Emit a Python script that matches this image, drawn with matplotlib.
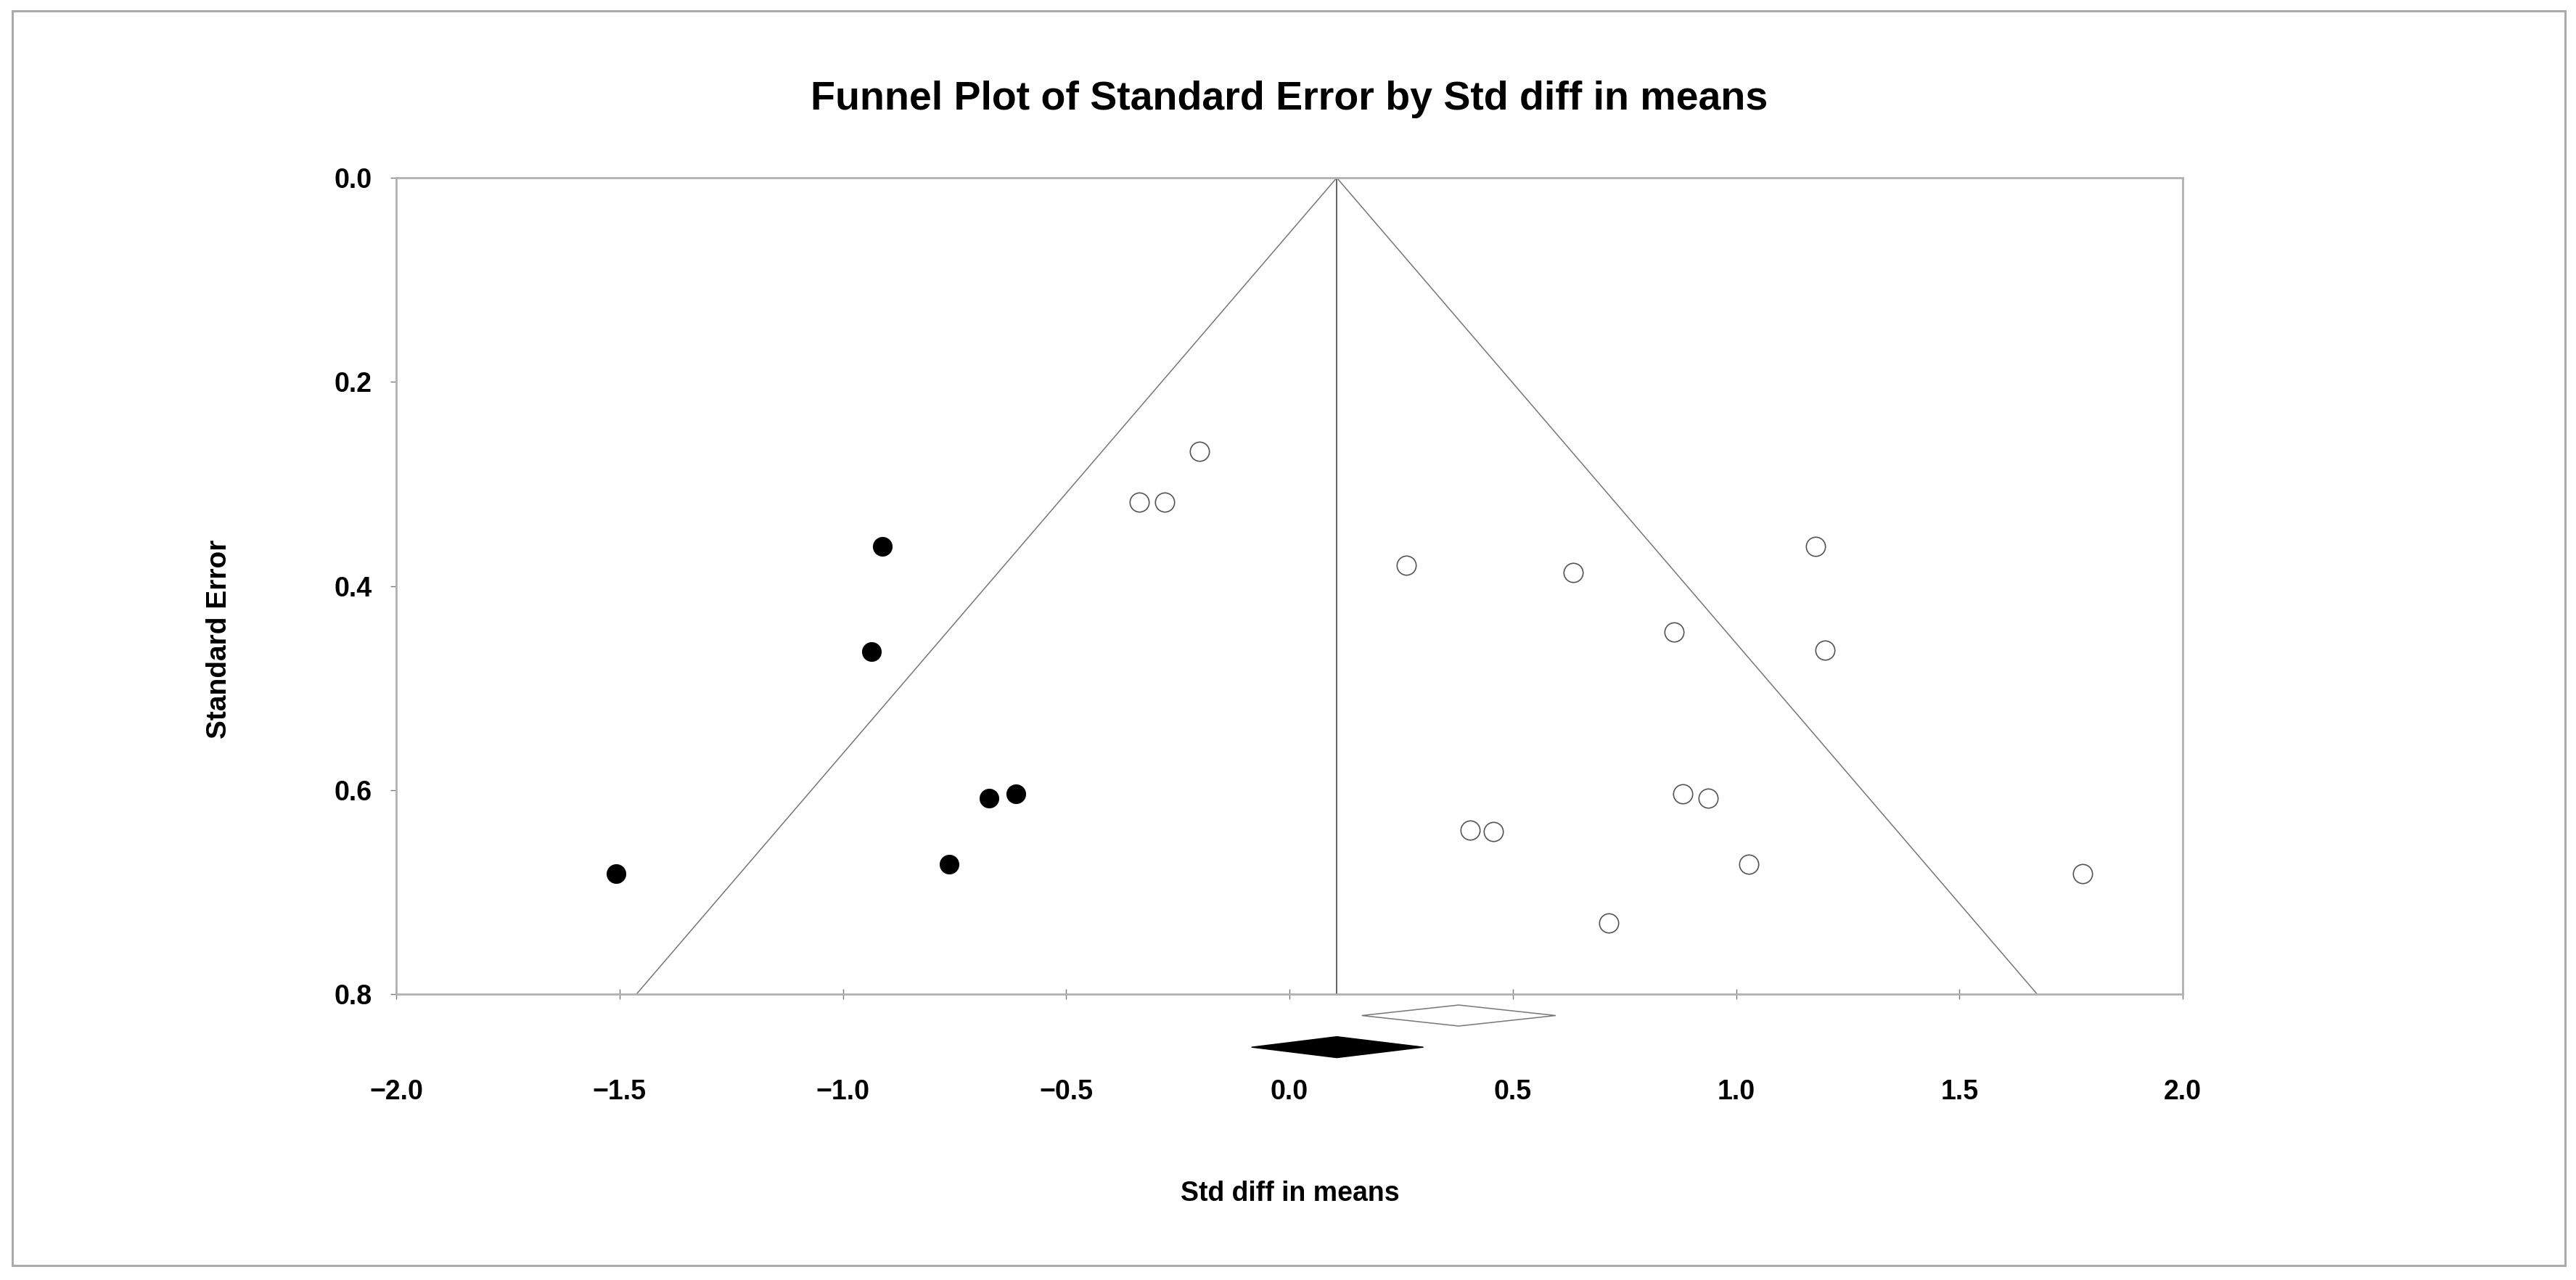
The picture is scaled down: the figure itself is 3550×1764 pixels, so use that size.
import matplotlib
matplotlib.use("Agg")
import matplotlib.pyplot as plt
from matplotlib.patches import Rectangle

plt.rcParams['font.family'] = ['Liberation Sans', 'DejaVu Sans']

# observed studies (open circles)
obs_x = [-0.202, -0.336, -0.280, 0.262, 0.636, 0.861, 1.178, 1.199,
         0.880, 0.938, 0.405, 0.456, 1.028, 0.715, 1.775]
obs_se = [0.268, 0.318, 0.318, 0.380, 0.387, 0.445, 0.361, 0.463,
          0.604, 0.608, 0.639, 0.641, 0.673, 0.730, 0.682]

# imputed studies (filled circles)
imp_x = [-0.911, -0.936, -0.673, -0.613, -0.762, -1.508]
imp_se = [0.361, 0.464, 0.608, 0.604, 0.673, 0.682]

# summary effects: point, lower, upper
obs_est = [0.379, 0.162, 0.596]
adj_est = [0.106, -0.085, 0.300]
obs_row = 0.821
adj_row = 0.852
dh = 0.0103

xticks = [-2.0, -1.5, -1.0, -0.5, 0.0, 0.5, 1.0, 1.5, 2.0]
yticks = [0.0, 0.2, 0.4, 0.6, 0.8]
se_max = 0.8

fig = plt.figure(figsize=(35.5, 17.64), dpi=100)
fig.patches.append(Rectangle((17/3550, 1-1744/1764), (3535-17)/3550, (1744-15)/1764,
                             transform=fig.transFigure, fill=False,
                             edgecolor='#aaaaaa', linewidth=2.2))

ax = fig.add_axes([546/3550, 1-1370/1764, (3008-546)/3550, (1370-245)/1764])

# funnel
c = adj_est[0]
ax.plot([c - 1.96*se_max, c, c + 1.96*se_max], [se_max, 0, se_max],
        color='#777777', linewidth=1.1, zorder=2)
ax.plot([c, c], [0, se_max], color='#555555', linewidth=1.3, zorder=2)

ax.plot(obs_x, obs_se, 'o', markersize=19, markerfacecolor='white',
        markeredgecolor='#555555', markeredgewidth=1.2, linestyle='none', zorder=3)
ax.plot(imp_x, imp_se, 'o', markersize=18.5, color='black', linestyle='none', zorder=3)

# summary diamonds
ax.fill([obs_est[1], obs_est[0], obs_est[2], obs_est[0]],
        [obs_row, obs_row - dh, obs_row, obs_row + dh],
        facecolor='white', edgecolor='#777777', linewidth=1.1, clip_on=False, zorder=4)
ax.fill([adj_est[1], adj_est[0], adj_est[2], adj_est[0]],
        [adj_row, adj_row - dh, adj_row, adj_row + dh],
        facecolor='black', edgecolor='black', linewidth=1.0, clip_on=False, zorder=4)

ax.set_xlim(-2.0, 2.0)
ax.set_ylim(se_max, 0.0)
ax.set_xticks(xticks)
ax.set_yticks(yticks)
ax.set_xticklabels(['\u22122.0', '\u22121.5', '\u22121.0', '\u22120.5',
                    '0.0', '0.5', '1.0', '1.5', '2.0'])
ax.set_yticklabels(['%.1f' % v for v in yticks])
ax.tick_params(axis='x', direction='inout', length=10, width=1.0, color='#777777',
               pad=79, labelsize=27)
ax.tick_params(axis='y', direction='out', length=6, width=1.0, color='#777777',
               pad=18, labelsize=27)
for lab in ax.get_xticklabels() + ax.get_yticklabels():
    lab.set_fontweight('bold')
for s in ax.spines.values():
    s.set_color('#b0b0b0')
    s.set_linewidth(2.0)

fig.text(1777/3550, 1-151/1764, 'Funnel Plot of Standard Error by Std diff in means',
         ha='center', va='baseline', fontsize=40, fontweight='bold')
fig.text(1778/3550, 1-1655/1764, 'Std diff in means',
         ha='center', va='baseline', fontsize=27, fontweight='bold')
fig.text(302/3550, 1-881/1764, 'Standard Error', rotation=90,
         ha='center', va='center', fontsize=28, fontweight='bold')

fig.savefig('out.png', dpi=100, facecolor='white')
